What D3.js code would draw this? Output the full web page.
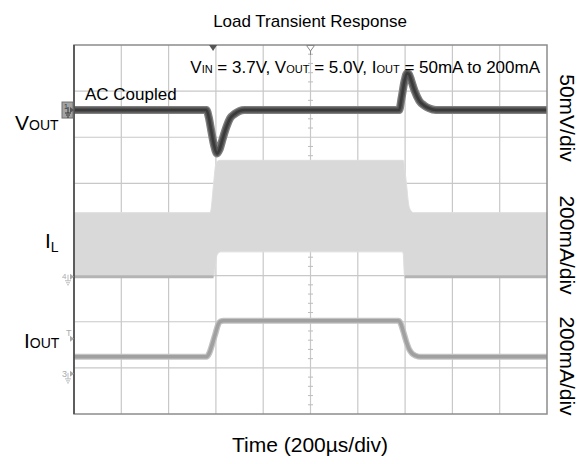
<!DOCTYPE html>
<html>
<head>
<meta charset="utf-8">
<script src="https://cdn.jsdelivr.net/npm/d3@7.9.0/dist/d3.min.js"></script>
<style>
body { margin: 0; background: #fff; }
svg { display: block; font-family: "Liberation Sans", Arial, sans-serif; }
</style>
</head>
<body>
<svg id="chart" width="585" height="464"></svg>
<script>
// scope time base: 200us/div, 10 divs across
const timeDomain = [0, 2000];
const divsX = 10, divsY = 8;

// VOUT (AC coupled), mV
const voutT  = [0, 560, 570, 580, 592, 605, 615, 630, 645, 660, 680, 700, 720, 1375, 1385, 1398, 1408, 1416, 1426, 1440, 1460, 1480, 1500, 1530, 2000];
const voutMv = [0, 0, -8, -22, -38, -47, -43, -30, -18, -9, -4, -1, 0, 0, 13, 32, 40, 39, 32, 21, 10, 5, 2, 0, 0];

// IL ripple envelope, mA
const ilT    = [0, 576, 590, 598, 605, 620, 1000, 1388, 1392, 1398, 1406, 1414, 1422, 1436, 2000];
const ilHiMa = [278, 278, 400, 480, 500, 505, 505, 505, 505, 470, 400, 320, 290, 278, 278];
const ilLoMa = [0, 0, 0, 50, 95, 108, 108, 108, 100, 0, 0, 0, 0, 0, 0];
const ilZeroSpans = [[0, 590], [1398, 2000]];

// IOUT, mA
const ioutT  = [0, 560, 572, 585, 598, 610, 620, 632, 1372, 1380, 1392, 1405, 1418, 1430, 1445, 1465, 2000];
const ioutMa = [74, 74, 90, 130, 175, 215, 228, 230, 230, 222, 185, 140, 105, 88, 79, 74, 74];

const triggerT = 588;
const leftLabels = [["V", "OUT"], ["I", "L"], ["I", "OUT"]];
const rightLabels = ["50mV/div", "200mA/div", "200mA/div"];

const svg = d3.select("#chart");
const plot = { left: 74, right: 547, top: 45, bottom: 414 };

const x = d3.scaleLinear().domain(timeDomain).range([plot.left, plot.right]);
const yDiv = d3.scaleLinear().domain([-divsY / 2, divsY / 2]).range([plot.bottom, plot.top]);

// channel scale: ground offset in divs + units per div
function chScale(offset, perDiv) {
  return d3.scaleLinear().domain([0, perDiv]).range([yDiv(offset), yDiv(offset + 1)]);
}
const yV  = chScale(2.59, 50);
const yIL = chScale(-1.025, 200);
const yIO = chScale(-3.13, 200);

// grid
const g = svg.append("g");
g.selectAll(".vx").data(d3.range(1, divsX)).join("line")
  .attr("x1", d => x(d * 200)).attr("x2", d => x(d * 200))
  .attr("y1", plot.top).attr("y2", plot.bottom)
  .attr("stroke", "#c8c8c8").attr("stroke-width", 1.2);
g.selectAll(".hy").data(d3.range(-3, 4)).join("line")
  .attr("y1", d => yDiv(d)).attr("y2", d => yDiv(d))
  .attr("x1", plot.left).attr("x2", plot.right)
  .attr("stroke", "#c8c8c8").attr("stroke-width", 1.2);
// minor ticks on centre lines
g.selectAll(".mty").data(d3.range(-20, 21).filter(d => d % 5)).join("line")
  .attr("x1", x(1000) - 2.5).attr("x2", x(1000) + 2.5)
  .attr("y1", d => yDiv(d / 5)).attr("y2", d => yDiv(d / 5))
  .attr("stroke", "#bdbdbd");
g.selectAll(".mtx").data(d3.range(1, 50).filter(d => d % 5)).join("line")
  .attr("x1", d => x(d * 40)).attr("x2", d => x(d * 40))
  .attr("y1", yDiv(0) - 2.5).attr("y2", yDiv(0) + 2.5)
  .attr("stroke", "#bdbdbd");

// IL band
const ilData = ilT.map((t, i) => ({ t, lo: ilLoMa[i], hi: ilHiMa[i] }));
svg.append("path").datum(ilData)
  .attr("d", d3.area().x(d => x(d.t)).y0(d => yIL(d.lo)).y1(d => yIL(d.hi)).curve(d3.curveMonotoneX))
  .attr("fill", "#d9d9d9").attr("stroke", "#dedede").attr("stroke-width", 1);
svg.selectAll(".ilz").data(ilZeroSpans).join("line")
  .attr("x1", d => x(d[0])).attr("x2", d => x(d[1]))
  .attr("y1", yIL(0)).attr("y2", yIL(0))
  .attr("stroke", "#b4b4b4").attr("stroke-width", 3);

// IOUT
const ioLine = d3.line().x(d => x(d[0])).y(d => yIO(d[1])).curve(d3.curveMonotoneX);
const ioData = ioutT.map((t, i) => [t, ioutMa[i]]);
svg.append("path").datum(ioData).attr("d", ioLine)
  .attr("fill", "none").attr("stroke", "#c2c2c2").attr("stroke-width", 6);
svg.append("path").datum(ioData).attr("d", ioLine)
  .attr("fill", "none").attr("stroke", "#a0a0a0").attr("stroke-width", 3.5);

// VOUT
const vLine = d3.line().x(d => x(d[0])).y(d => yV(d[1])).curve(d3.curveMonotoneX);
const vData = voutT.map((t, i) => [t, voutMv[i]]);
svg.append("path").datum(vData).attr("d", vLine)
  .attr("fill", "none").attr("stroke", "#808080").attr("stroke-width", 8);
svg.append("path").datum(vData).attr("d", vLine)
  .attr("fill", "none").attr("stroke", "#555").attr("stroke-width", 5.5);
svg.append("path").datum(vData).attr("d", vLine)
  .attr("fill", "none").attr("stroke", "#3a3a3a").attr("stroke-width", 2.5);

// frame
svg.append("rect")
  .attr("x", plot.left).attr("y", plot.top)
  .attr("width", plot.right - plot.left).attr("height", plot.bottom - plot.top)
  .attr("fill", "none").attr("stroke", "#8c8c8c").attr("stroke-width", 1.5);
svg.append("line")
  .attr("x1", plot.left).attr("x2", plot.left).attr("y1", plot.top).attr("y2", plot.bottom)
  .attr("stroke", "#444").attr("stroke-width", 1.5);

// top markers
svg.append("path")
  .attr("d", `M${x(triggerT) - 4},${plot.top} L${x(triggerT) + 4},${plot.top} L${x(triggerT)},${plot.top + 6}Z`)
  .attr("fill", "#555");
svg.append("path")
  .attr("d", `M${x(1000) - 4},${plot.top + 0.5} L${x(1000) + 4},${plot.top + 0.5} L${x(1000)},${plot.top + 6}Z M${x(1000)},${plot.top + 6} L${x(1000)},${plot.top + 10}`)
  .attr("fill", "#fff").attr("stroke", "#888").attr("stroke-width", 1);

// channel ground markers
function gnd(sel, cx, cy, col) {
  sel.append("path")
    .attr("d", `M${cx},${cy - 4} L${cx},${cy + 2} M${cx - 3},${cy + 2} L${cx + 3},${cy + 2} M${cx - 2},${cy + 4} L${cx + 2},${cy + 4} M${cx - 1},${cy + 6} L${cx + 1},${cy + 6}`)
    .attr("stroke", col).attr("fill", "none").attr("stroke-width", 1);
}
function arrow(sel, yy, col) {
  sel.append("path").attr("d", `M${plot.left - 4},${yy - 3} L${plot.left},${yy} L${plot.left - 4},${yy + 3}Z`).attr("fill", col);
}
const mk = svg.append("g");
mk.append("rect").attr("x", 62).attr("y", yV(0) - 8).attr("width", 11).attr("height", 16)
  .attr("fill", "#a3a3a3").attr("stroke", "#707070");
mk.append("text").attr("x", 64).attr("y", yV(0) - 1).attr("font-size", 7).attr("fill", "#333").text("1");
gnd(mk, 68, yV(0) + 1, "#333");
arrow(mk, yV(0), "#555");

mk.append("text").attr("x", 62).attr("y", yIL(0) + 2).attr("font-size", 8).attr("fill", "#aaa").text("4");
gnd(mk, 68, yIL(0) + 2, "#bbb");
arrow(mk, yIL(0), "#aaa");

mk.append("text").attr("x", 66).attr("y", yDiv(-2.37) - 3).attr("font-size", 9).attr("fill", "#aaa").text("T");
arrow(mk, yDiv(-2.37), "#aaa");

mk.append("text").attr("x", 62).attr("y", yIO(0) + 3).attr("font-size", 9).attr("fill", "#aaa").text("3");
gnd(mk, 68, yIO(0) + 3, "#bbb");
arrow(mk, yIO(0), "#aaa");

// texts
svg.append("text").attr("x", 310).attr("y", 27).attr("text-anchor", "middle")
  .attr("font-size", 17).text("Load Transient Response");

const par = svg.append("text").attr("x", 540).attr("y", 73).attr("text-anchor", "end").attr("font-size", 17);
[["V", ""], ["IN", "s"], [" = 3.7V, V", ""], ["OUT", "s"], [" = 5.0V, I", ""], ["OUT", "s"], [" = 50mA to 200mA", ""]]
  .forEach(([t, s]) => par.append("tspan").attr("font-size", s ? 11 : 17).text(t));

svg.append("text").attr("x", 85).attr("y", 100).attr("font-size", 17).text("AC Coupled");

const leftPos = [[15, 130, 0], [45, 248, 4], [24, 348, 0]];
leftLabels.forEach((l, i) => {
  const t = svg.append("text").attr("x", leftPos[i][0]).attr("y", leftPos[i][1]).attr("font-size", 21);
  t.append("tspan").text(l[0]);
  t.append("tspan").attr("font-size", 14).attr("dy", leftPos[i][2]).text(l[1]);
});

const rightY = [118, 245, 366];
rightLabels.forEach((l, i) => {
  svg.append("text").attr("transform", `translate(560,${rightY[i]}) rotate(90)`)
    .attr("text-anchor", "middle").attr("font-size", 21).text(l);
});

svg.append("text").attr("x", 310).attr("y", 452).attr("text-anchor", "middle")
  .attr("font-size", 21).text("Time (200µs/div)");
</script>
